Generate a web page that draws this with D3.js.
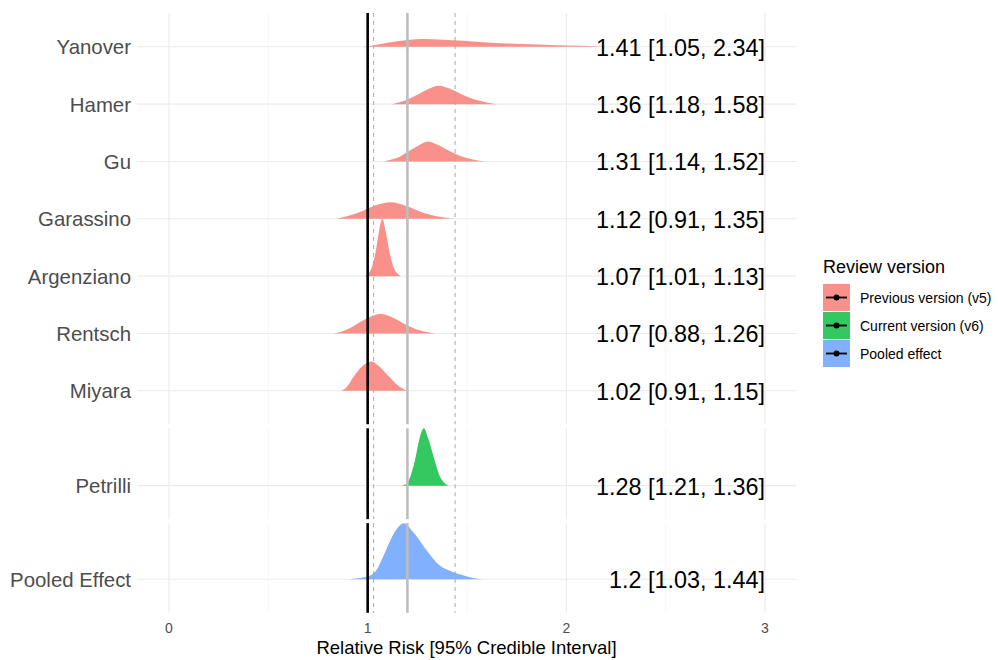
<!DOCTYPE html>
<html>
<head>
<meta charset="utf-8">
<script src="https://cdn.jsdelivr.net/npm/d3@7"></script>
<style>
  html, body { margin: 0; padding: 0; background: #fff; }
  svg { display: block; font-family: "Liberation Sans", Arial, sans-serif; }
</style>
</head>
<body>
<svg id="chart" width="998" height="660"></svg>
<script>
// Studies, top to bottom
const studies = ["Yanover", "Hamer", "Gu", "Garassino", "Argenziano", "Rentsch", "Miyara", "Petrilli", "Pooled Effect"];
const versions = [
  "Previous version (v5)", "Previous version (v5)", "Previous version (v5)", "Previous version (v5)",
  "Previous version (v5)", "Previous version (v5)", "Previous version (v5)",
  "Current version (v6)", "Pooled effect"
];
// Posterior median relative risk and 95% credible interval
const medians = [1.41, 1.36, 1.31, 1.12, 1.07, 1.07, 1.02, 1.28, 1.20];
const lower   = [1.05, 1.18, 1.14, 0.91, 1.01, 0.88, 0.91, 1.21, 1.03];
const upper   = [2.34, 1.58, 1.52, 1.35, 1.13, 1.26, 1.15, 1.36, 1.44];

// Posterior density outlines: [relative risk, scaled density]
const densities = [
  [[0.975,0],[1.02,0.02],[1.1,0.07],[1.2,0.12],[1.28,0.135],[1.38,0.125],[1.48,0.105],[1.58,0.08],[1.7,0.06],[1.85,0.04],[2.0,0.025],[2.15,0.01],[2.17,0]],
  [[1.124,0],[1.16,0.035],[1.2,0.08],[1.25,0.165],[1.30,0.255],[1.358,0.32],[1.42,0.26],[1.48,0.16],[1.54,0.08],[1.6,0.03],[1.652,0]],
  [[1.079,0],[1.12,0.035],[1.16,0.08],[1.2,0.165],[1.25,0.265],[1.303,0.35],[1.36,0.28],[1.417,0.175],[1.47,0.09],[1.53,0.035],[1.593,0]],
  [[0.839,0],[0.88,0.03],[0.93,0.08],[0.98,0.145],[1.04,0.235],[1.116,0.29],[1.18,0.24],[1.25,0.145],[1.31,0.075],[1.37,0.03],[1.434,0]],
  [[0.981,0],[1.0,0.035],[1.02,0.14],[1.04,0.42],[1.055,0.74],[1.074,1.0],[1.09,0.79],[1.11,0.42],[1.13,0.16],[1.15,0.045],[1.166,0]],
  [[0.828,0],[0.87,0.035],[0.91,0.09],[0.948,0.17],[1.0,0.27],[1.065,0.34],[1.13,0.27],[1.183,0.17],[1.24,0.08],[1.29,0.03],[1.342,0]],
  [[0.864,0],[0.89,0.05],[0.93,0.25],[0.97,0.42],[1.018,0.51],[1.06,0.42],[1.107,0.25],[1.15,0.1],[1.18,0.03],[1.2,0]],
  [[1.174,0],[1.2,0.05],[1.22,0.21],[1.241,0.49],[1.26,0.81],[1.283,1.0],[1.305,0.82],[1.333,0.49],[1.36,0.19],[1.385,0.05],[1.409,0]],
  [[0.906,0],[0.95,0.02],[1.0,0.05],[1.04,0.14],[1.09,0.49],[1.13,0.79],[1.183,0.98],[1.23,0.82],[1.3,0.49],[1.36,0.25],[1.42,0.14],[1.48,0.07],[1.53,0.025],[1.576,0]]
];

// Reference lines: null effect, pooled estimate and its interval
const nullEffect = 1;
const pooledMedian = 1.20;
const pooledLower = 1.03;
const pooledUpper = 1.44;

const legendLabels = ["Previous version (v5)", "Current version (v6)", "Pooled effect"];
const legendColors = ["#F8766D", "#00BA38", "#619CFF"];
const xTicks = [0, 1, 2, 3];
const xMinor = [0.5, 1.5, 2.5];
const xTitle = "Relative Risk [95% Credible Interval]";
const legendTitle = "Review version";

// ---- layout ----
const svg = d3.select("#chart");
const panelLeft = 137, panelRight = 796;
const rowStep = 57.33;
const panelGap = 4;

const x = d3.scaleLinear().domain([0, 3]).range([169, 765]);
const h = d3.scaleLinear().domain([0, 1]).range([0, rowStep]);
const color = d3.scaleOrdinal().domain(legendLabels).range(legendColors);

const fmt = v => String(+v.toFixed(2));

// group rows into facets by review version
const panelOrder = legendLabels;
let yCursor = 13;
const panels = panelOrder.map(ver => {
  const idx = studies.map((s, i) => i).filter(i => versions[i] === ver);
  const topPad = Math.max(0.59, d3.max(densities[idx[0]], d => d[1])) * rowStep;
  const top = yCursor;
  const rowY = idx.map((i, j) => top + topPad + j * rowStep);
  const bottom = rowY[rowY.length - 1] + 33.5;
  yCursor = bottom + panelGap;
  return { ver, idx, top, bottom, rowY };
});

const area = d3.area().curve(d3.curveMonotoneX);

panels.forEach(p => {
  const g = svg.append("g");
  // minor vertical grid
  g.selectAll("line.minor").data(xMinor).join("line")
    .attr("x1", d => x(d)).attr("x2", d => x(d))
    .attr("y1", p.top).attr("y2", p.bottom)
    .attr("stroke", "#F2F2F2").attr("stroke-width", 0.6);
  // major vertical grid
  g.selectAll("line.major").data(xTicks).join("line")
    .attr("x1", d => x(d)).attr("x2", d => x(d))
    .attr("y1", p.top).attr("y2", p.bottom)
    .attr("stroke", "#EBEBEB").attr("stroke-width", 1.1);
  // horizontal grid at each study
  g.selectAll("line.row").data(p.rowY).join("line")
    .attr("x1", panelLeft).attr("x2", panelRight)
    .attr("y1", d => d).attr("y2", d => d)
    .attr("stroke", "#EBEBEB").attr("stroke-width", 1.1);

  // density ridges
  p.idx.forEach((i, j) => {
    const base = p.rowY[j];
    g.append("path")
      .datum(densities[i])
      .attr("d", area.x(d => x(d[0])).y0(base).y1(d => base - h(d[1])))
      .attr("fill", color(versions[i]))
      .attr("fill-opacity", 0.8);
  });

  // reference lines
  [pooledLower, pooledUpper].forEach(v => {
    g.append("line")
      .attr("x1", x(v)).attr("x2", x(v)).attr("y1", p.top).attr("y2", p.bottom)
      .attr("stroke", "#A8A8A8").attr("stroke-width", 1).attr("stroke-dasharray", "4,4");
  });
  g.append("line")
    .attr("x1", x(pooledMedian)).attr("x2", x(pooledMedian)).attr("y1", p.top).attr("y2", p.bottom)
    .attr("stroke", "#BEBEBE").attr("stroke-width", 2.6);
  g.append("line")
    .attr("x1", x(nullEffect)).attr("x2", x(nullEffect)).attr("y1", p.top).attr("y2", p.bottom)
    .attr("stroke", "#000").attr("stroke-width", 2.6);

  // estimate labels
  p.idx.forEach((i, j) => {
    g.append("text")
      .attr("x", x(3)).attr("y", p.rowY[j] + 9)
      .attr("text-anchor", "end")
      .attr("font-size", 23.4).attr("fill", "#000")
      .text(`${fmt(medians[i])} [${fmt(lower[i])}, ${fmt(upper[i])}]`);
  });

  // study names
  p.idx.forEach((i, j) => {
    svg.append("text")
      .attr("x", 131).attr("y", p.rowY[j] + 7.5)
      .attr("text-anchor", "end")
      .attr("font-size", 20.4).attr("fill", "#4D4D4D")
      .text(studies[i]);
  });
});

// x axis
const lastBottom = panels[panels.length - 1].bottom;
svg.append("g").selectAll("text").data(xTicks).join("text")
  .attr("x", d => x(d)).attr("y", lastBottom + 20)
  .attr("text-anchor", "middle").attr("font-size", 14).attr("fill", "#4D4D4D")
  .text(d => d);
svg.append("text")
  .attr("x", (panelLeft + panelRight) / 2).attr("y", lastBottom + 41)
  .attr("text-anchor", "middle").attr("font-size", 18.5).attr("fill", "#000")
  .text(xTitle);

// legend
const lg = svg.append("g").attr("transform", "translate(823,0)");
lg.append("text").attr("x", 0).attr("y", 273).attr("font-size", 18).attr("fill", "#000").text(legendTitle);
const key = lg.selectAll("g.key").data(legendLabels).join("g")
  .attr("transform", (d, i) => `translate(0,${284 + i * 28})`);
key.append("rect").attr("width", 27).attr("height", 27)
  .attr("fill", d => color(d)).attr("fill-opacity", 0.8);
key.append("line").attr("x1", 3).attr("x2", 24).attr("y1", 13.5).attr("y2", 13.5)
  .attr("stroke", "#000").attr("stroke-width", 1.8);
key.append("circle").attr("cx", 13.5).attr("cy", 13.5).attr("r", 3).attr("fill", "#000");
key.append("text").attr("x", 37).attr("y", 18.5).attr("font-size", 14).attr("fill", "#000").text(d => d);
</script>
</body>
</html>
